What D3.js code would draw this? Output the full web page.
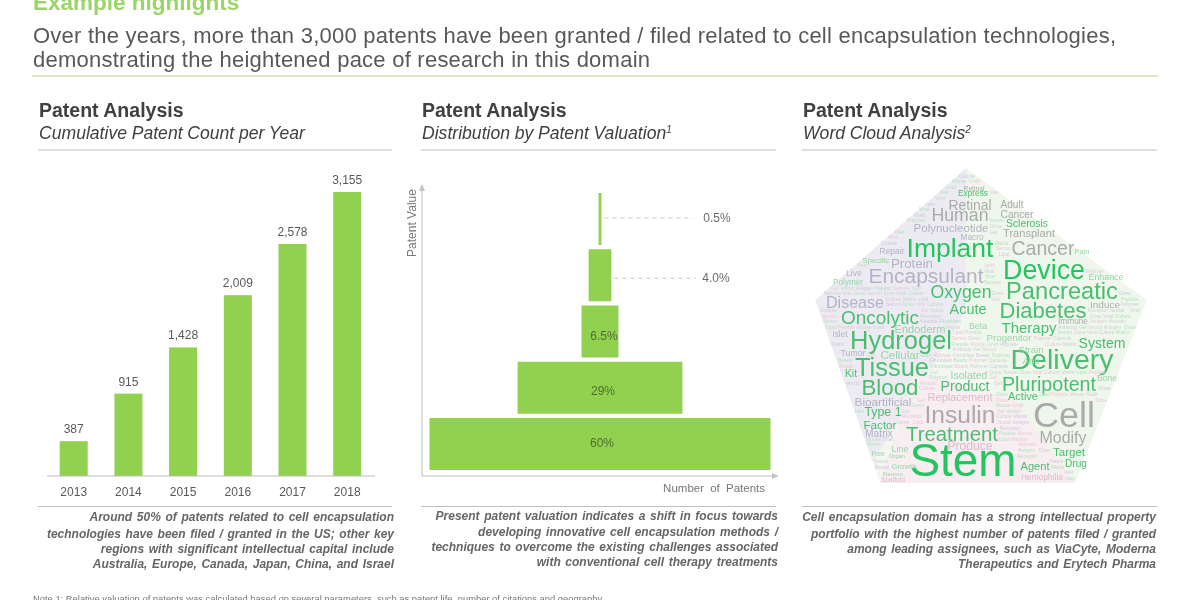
<!DOCTYPE html>
<html><head><meta charset="utf-8">
<script src="https://cdn.jsdelivr.net/npm/d3@7"></script>
<style>
html,body{margin:0;padding:0;background:#fff}
svg{display:block}
text{font-family:"Liberation Sans",Arial,sans-serif}
</style></head><body>
<svg id="c" width="1200" height="600"></svg>
<script>
// ---------- data ----------
const years=["2013","2014","2015","2016","2017","2018"];
const patents=[387,915,1428,2009,2578,3155];
const tiers=["0.5%","4.0%","6.5%","29%","60%"];
const tierShares=[0.5,4,6.5,29,60];
const titleLines=["Over the years, more than 3,000 patents have been granted / filed related to cell encapsulation technologies,","demonstrating the heightened pace of research in this domain"];
const panelSubs=["Cumulative Patent Count per Year","Distribution by Patent Valuation","Word Cloud Analysis"];
const panelSups=["","1","2"];
const captions=[
["Around 50% of patents related to cell encapsulation","technologies have been filed / granted in the US; other key","regions with significant intellectual capital include","Australia, Europe, Canada, Japan, China, and Israel"],
["Present patent valuation indicates a shift in focus towards","developing innovative cell encapsulation methods /","techniques to overcome the existing challenges associated","with conventional cell therapy treatments"],
["Cell encapsulation domain has a strong intellectual property","portfolio with the highest number of patents filed / granted","among leading assignees, such as ViaCyte, Moderna","Therapeutics and Erytech Pharma"]];
const cloudWords=["Implant","Cancer","Device","Encapsulant","Oxygen","Pancreatic","Diabetes","Acute","Disease","Oncolytic","Human","Retinal","Polynucleotide","Macro","Transplant","Sclerosis","Adult","Cancer","Express","Retinal","Protein","Specific","Repair","Live","Polymer","Enhance","Induce","Pain","Immune","Therapy","Endoderm","Hydrogel","Delivery","System","Tissue","Blood","Cellular","Pluripotent","Product","Isolated","Replacement","Bioartificial","Active","Type 1","Insulin","Cell","Factor","Matrix","Treatment","Modify","Stem","Target","Drug","Agent","Line","Growth","Organ","Neuron","Scaffold","Free","Hemophilia","Tumor","Kit","Bone","Strain","Anti","Beta","Progenitor","Islet","Produce"];
const cloudX=[150,243,244,126,161,262,243,168,55,80,160,170,151,172,229,227,212,217,173,174,112,76,92,54,48,306,305,282,273,229,120,101,262,302,92,90,100,249,165,169,160,83,223,83,160,264,80,79,152,263,163,269,276,235,100,104,97,93,93,78,242,53,51,307,231,231,178,209,40,170];
const cloudY=[88,88,110,115,132,131,150,149,142,157,55,45,68,77,73,63,44,54,33,28,103,100,91,113,122,117,144,91,161,167,169,180,199,183,207,227,195,224,226,215,237,241,236,252,254,254,264,273,274,277,300,292,303,306,289,306,296,313,319,293,317,193,213,218,189,200,166,177,174,286];
const cloudSpan=[87,63,82,115,61,112,87,37,58,78,57,43,75,23,52,42,23,33,30,21,42,27,25,16,30,35,30,15,30,55,51,102,103,47,74,57,39,94,49,37,65,57,30,37,71,62,33,28,92,47,107,32,22,29,17,25,16,20,24,13,42,25,12,20,25,17,18,45,15,45];
const cloudTone=["strong","grey","strong","lilac","mid","mid","mid","mid","lilac","mid","grey","grey","lilac","lilac","grey","mid","grey","grey","mid","grey","lilac","pale","lilac","lilac","pale","pale","grey","pale","grey","mid","pale","mid","mid","mid","mid","mid","pale","mid","mid","pale","pink","lilac","mid","mid","grey","grey","mid","lilac","mid","grey","strong","mid","mid","mid","pale","pale","pale","pale","pink","pale","pink","lilac","mid","pale","pale","pale","pale","pale","lilac","pink"];
const fillerWords=["Polymer","Gel","Islet","Culture","Graft","Capsule","Vector","Gene","Matrix","Alginate","Receptor","Antigen","Serum","Lipid","Fibroblast","Neural","Hepatic","Dose","Peptide","Beads","Antibody","Secrete","Viral","Mouse"];
// pentagon outline and tint patches, cloud units
const outlineX=[166,347,275,80,15],outlineY=[8,140,323,323,140];
const patchLilac=[[166,8],[166,150],[60,323],[80,323],[15,140]];
const patchGreen=[[166,8],[347,140],[275,323],[230,323],[166,150]];
const patchPink=[[80,323],[115,210],[215,240],[275,323]];

// ---------- drawing ----------
const svg=d3.select("#c");
const green="#92d050",grey="#bfbfbf",textGrey="#595959";
const defs=svg.append("defs");
defs.append("filter").attr("id","soft").append("feGaussianBlur").attr("stdDeviation",0.45);
defs.append("filter").attr("id","softer").append("feGaussianBlur").attr("stdDeviation",0.3);
const page=svg.append("g").attr("filter","url(#softer)");

page.append("text").attr("x",33).attr("y",10).attr("font-size",22.5).attr("font-weight",700).attr("fill","#9bd468").text("Example highlights");
page.selectAll(".tl").data(titleLines).join("text").attr("x",33).attr("y",(d,i)=>43+i*24).attr("font-size",22).attr("fill",textGrey).attr("textLength",(d,i)=>i?617:1083).attr("lengthAdjust","spacing").text(d=>d);
page.append("line").attr("x1",32).attr("x2",1158).attr("y1",76).attr("y2",76).attr("stroke","#b9cf95");

const panelX=[38,421,802],panelW=[354,355,355];
panelX.forEach((x,i)=>{
  page.append("text").attr("x",x+1).attr("y",117).attr("font-size",19.5).attr("font-weight",700).attr("fill","#404040").text("Patent Analysis");
  const t=page.append("text").attr("x",x+1).attr("y",139).attr("font-size",17.6).attr("font-style","italic").attr("fill","#404040").attr("word-spacing",-0.2).text(panelSubs[i]);
  if(panelSups[i]) t.append("tspan").attr("dy",-6).attr("font-size",10).text(panelSups[i]);
  page.append("line").attr("x1",x).attr("x2",x+panelW[i]).attr("y1",150).attr("y2",150).attr("stroke",grey);
  page.append("line").attr("x1",x).attr("x2",x+panelW[i]).attr("y1",506.5).attr("y2",506.5).attr("stroke",grey);
  const ys=i===1?[520,536,551,566]:[521,538,553,568];
  page.selectAll(null).data(captions[i]).join("text").attr("x",x+panelW[i]+(i===2?-1:2)).attr("y",(d,k)=>ys[k]).attr("text-anchor","end").attr("font-size",12).attr("font-weight",700).attr("font-style","italic").attr("fill","#666").attr("word-spacing",1.3).text(d=>d);
});

// cumulative bars
const bx=d3.scaleBand().domain(years).range([46.35,374.55]).paddingInner(0.488).paddingOuter(0.244);
const by=d3.scaleLinear().domain([0,3155]).range([476,192]);
const bars=page.append("g");
bars.selectAll("rect").data(patents).join("rect").attr("x",(d,i)=>bx(years[i])).attr("width",bx.bandwidth()).attr("y",d=>by(d)).attr("height",d=>by(0)-by(d)).attr("fill",green);
bars.selectAll(".v").data(patents).join("text").attr("x",(d,i)=>bx(years[i])+bx.bandwidth()/2).attr("y",d=>by(d)-8).attr("text-anchor","middle").attr("font-size",12).attr("fill",textGrey).text(d3.format(","));
const xa=page.append("g").attr("transform","translate(0,476)").call(d3.axisBottom(bx).tickSize(0).tickPadding(11));
xa.select(".domain").attr("stroke","#bdbdbd").attr("d","M47,0H375");
xa.selectAll("text").attr("font-size",12).attr("fill",textGrey).attr("font-family","Liberation Sans");

// valuation pyramid
const wid=d3.scaleLinear().domain([0,60]).range([0,341]);
const py=d3.scaleBand().domain(tiers).range([193,470]).paddingInner(0.075).paddingOuter(0);
const cx=600;
const pyr=page.append("g");
pyr.selectAll("rect").data(tierShares).join("rect").attr("x",d=>cx-wid(d)/2).attr("width",d=>wid(d)).attr("y",(d,i)=>py(tiers[i])).attr("height",py.bandwidth()).attr("fill",green);
pyr.selectAll(".l").data(tiers.slice(2)).join("text").attr("x",(d,i)=>[604,603,602][i]).attr("y",(d,i)=>py(d)+py.bandwidth()/2+[8,7,3][i]).attr("text-anchor","middle").attr("font-size",12).attr("fill","#4f6e35").text(d=>d);
tiers.slice(0,2).forEach((t,i)=>{
  const y=py(t)+py.bandwidth()/2+(i?3:-1);
  page.append("line").attr("x1",cx+wid(tierShares[i])/2+3).attr("x2",[693,696][i]).attr("y1",y).attr("y2",y).attr("stroke","#c8c8c8").attr("stroke-dasharray","4 4");
  page.append("text").attr("x",[717,716][i]).attr("y",y+4).attr("text-anchor","middle").attr("font-size",12).attr("fill","#6b6b6b").text(t);
});
const ax=page.append("g").attr("fill","none").attr("stroke","#bdbdbd");
ax.append("path").attr("d",d3.line()([[422,190],[422,476],[774,476]]));
page.append("path").attr("fill","#c4c4c4").attr("d","M422,184l-3,7h6z");
page.append("path").attr("fill","#c4c4c4").attr("d","M779,476l-7,-3v6z");
page.append("text").attr("transform","translate(416,223) rotate(-90)").attr("text-anchor","middle").attr("font-size",12).attr("fill","#777").text("Patent Value");
page.append("text").attr("x",765).attr("y",491.5).attr("text-anchor","end").attr("font-size",11.5).attr("fill","#777").attr("word-spacing",3).text("Number of Patents");

// word cloud
const ux=d3.scaleLinear().domain([0,360]).range([800,1160]);
const uy=d3.scaleLinear().domain([0,330]).range([160,490]);
const pts=a=>a.map(p=>[ux(p[0]),uy(p[1])]);
const outline=pts(d3.zip(outlineX,outlineY));
defs.append("clipPath").attr("id","penta").append("path").attr("d",d3.line().curve(d3.curveLinearClosed)(outline));
const cloud=svg.append("g").attr("filter","url(#soft)");
const inner=cloud.append("g").attr("clip-path","url(#penta)");
const closed=d3.line().curve(d3.curveLinearClosed);
inner.append("path").attr("d",closed(outline)).attr("fill","#f4f6f1");
inner.append("path").attr("d",closed(pts(patchLilac))).attr("fill","#ecebf2");
inner.append("path").attr("d",closed(pts(patchGreen))).attr("fill","#eff7ec");
inner.append("path").attr("d",closed(pts(patchPink))).attr("fill","#f8eef2");
const toneColor={strong:"#22c55e",mid:"#4abd70",pale:"#98d4a9",grey:"#aaaaaa",lilac:"#b6b1c6",pink:"#dcb9c9"};
const big=cloud.append("g");
big.selectAll(".w").data(cloudWords).join("text")
  .attr("x",(d,i)=>ux(cloudX[i])).attr("y",(d,i)=>uy(cloudY[i]))
  .attr("text-anchor","middle").attr("dominant-baseline","central")
  .attr("font-family","Lato").attr("font-size",20)
  .attr("fill",(d,i)=>toneColor[cloudTone[i]]).text(d=>d)
  .each(function(d,i){const l=this.getComputedTextLength();d3.select(this).attr("font-size",20*cloudSpan[i]/l);});
// small pale words fill the gaps between the large ones
const boxes=[];
big.selectAll("text").each(function(){const b=this.getBBox();boxes.push({x0:b.x,x1:b.x+b.width,y0:b.y+b.height*0.2,y1:b.y+b.height*0.82});});
const hit=(x0,x1,y0,y1)=>boxes.some(b=>x0<b.x1&&x1>b.x0&&y0<b.y1&&y1>b.y0);
const fillColors=["#cfcbdb","#b9e0c3","#e6cbd7","#cbd6ce"];
const small=cloud.append("g").attr("font-family","Lato").attr("font-size",5);
let n=0;
for(let y=uy(12);y<uy(322);y+=5.6,n++){
  let x=ux(8)+(n*7)%18,k=n*3;
  while(x<ux(352)){
    const w=fillerWords[k%fillerWords.length];
    const t=small.append("text").attr("x",x).attr("y",y).attr("fill",fillColors[(n+k)%4]).text(w);
    const l=t.node().getComputedTextLength();
    const inside=d3.polygonContains(outline,[x,y-2])&&d3.polygonContains(outline,[x+l,y-2]);
    if(!inside||hit(x,x+l,y-4,y+1)){t.remove();x+=2;k+=1;}
    else{x+=l+1.5;k+=5;}
  }
}

// footnote, cut by the page edge
page.append("text").attr("x",33).attr("y",602).attr("font-size",9.4).attr("fill","#777").text("Note 1: Relative valuation of patents was calculated based on several parameters, such as patent life, number of citations and geography");
</script>
</body></html>
